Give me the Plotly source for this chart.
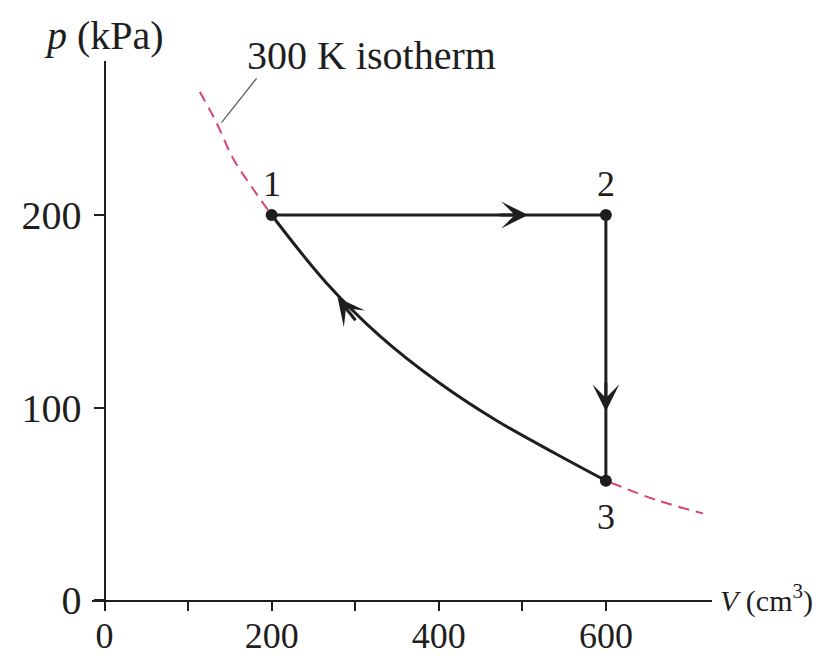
import plotly.graph_objects as go

# ---- data ----
state_labels = ["1", "2", "3"]
state_V = [200, 600, 600]
state_p = [200, 200, 62]

# process 3 -> 1 (curved path)
curve_V = [600, 540, 470, 400, 330, 265, 200]
curve_p = [62, 76, 93, 113, 137, 165, 200]

# 300 K isotherm (dashed), visible pieces
iso_hi_V = [114, 134, 153, 177, 200]
iso_hi_p = [264, 248, 230, 214, 200]
iso_lo_V = [606, 660, 716]
iso_lo_p = [61, 52, 45]

# leader line for the isotherm label
leader_V = [140, 182]
leader_p = [248, 271]

x_ticks = [0, 200, 400, 600]
x_minor_ticks = [100, 300, 500]
y_ticks = [0, 100, 200]

X_RANGE = [-15, 727]
Y_RANGE = [0, 280]

FONT = "Liberation Serif"
FS = 40
INK = "#1e1e1e"
ISO = "#d9446e"

fig = go.Figure()

fig.add_trace(go.Scatter(x=iso_hi_V, y=iso_hi_p, mode="lines", line_shape="spline",
                         line=dict(color=ISO, width=2, dash="11px,7px"), hoverinfo="skip"))
fig.add_trace(go.Scatter(x=iso_lo_V, y=iso_lo_p, mode="lines", line_shape="spline",
                         line=dict(color=ISO, width=2, dash="11px,7px"), hoverinfo="skip"))
fig.add_trace(go.Scatter(x=leader_V, y=leader_p, mode="lines",
                         line=dict(color="#555", width=1.2), hoverinfo="skip"))
# 1 -> 2 -> 3
fig.add_trace(go.Scatter(x=state_V, y=state_p, mode="lines",
                         line=dict(color=INK, width=3)))
# 3 -> 1
fig.add_trace(go.Scatter(x=curve_V, y=curve_p, mode="lines", line_shape="spline",
                         line=dict(color=INK, width=3)))
fig.add_trace(go.Scatter(x=state_V, y=state_p, mode="markers",
                         marker=dict(color=INK, size=12)))

ann = []
# state labels
for lab, v, p in zip(state_labels, state_V, state_p):
    shift = -36 if lab == "3" else 31
    ann.append(dict(x=v, y=p, text=lab, showarrow=False, yshift=shift,
                    font=dict(family=FONT, size=FS - 4, color=INK)))

# direction arrows (heads only)
arrow_common = dict(text="", showarrow=True, arrowhead=3, arrowsize=1.5,
                    arrowwidth=3, arrowcolor=INK, axref="pixel", ayref="pixel")
ann.append(dict(x=507, y=200, ax=-30, ay=0, **arrow_common))
ann.append(dict(x=600, y=98, ax=0, ay=-30, **arrow_common))
ann.append(dict(x=279, y=157, ax=19, ay=24, **arrow_common))


def paper_y(p):
    return (p - Y_RANGE[0]) / (Y_RANGE[1] - Y_RANGE[0])


def paper_x(v):
    return (v - X_RANGE[0]) / (X_RANGE[1] - X_RANGE[0])


# text labels
ann.append(dict(x=168, xref="x", y=paper_y(283), yref="paper", text="300 K isotherm",
                showarrow=False, xanchor="left", yanchor="middle",
                font=dict(family=FONT, size=FS, color=INK)))
ann.append(dict(x=paper_x(-75), xref="paper", y=paper_y(293), yref="paper",
                text="<i>p</i> (kPa)", showarrow=False,
                xanchor="left", yanchor="middle",
                font=dict(family=FONT, size=FS, color=INK)))
ann.append(dict(x=paper_x(734), xref="paper", y=1, yref="y",
                text="<i>V</i> (cm<sup>3</sup>)", showarrow=False,
                xanchor="left", yanchor="middle",
                font=dict(family=FONT, size=30, color=INK)))

# page body has an 8px margin: the figure starts at (8, 8) in the window
fig.update_layout(
    width=813, height=648,
    margin=dict(l=84, r=109, t=53, b=56),
    paper_bgcolor="white", plot_bgcolor="white",
    showlegend=False,
    annotations=ann,
    xaxis=dict(range=X_RANGE, showgrid=False, zeroline=False, automargin=False,
               showline=True, linecolor=INK, linewidth=2,
               tickmode="array", tickvals=x_ticks,
               ticks="outside", ticklen=9, tickwidth=2, tickcolor=INK,
               ticklabelstandoff=-6,
               minor=dict(tickmode="array", tickvals=x_minor_ticks, ticks="outside",
                          ticklen=9, tickwidth=2, tickcolor=INK, showgrid=False),
               tickfont=dict(family=FONT, size=FS - 4, color=INK)),
    yaxis=dict(range=Y_RANGE, showgrid=False, zeroline=False, automargin=False,
               anchor="free", position=paper_x(0),
               showline=True, linecolor=INK, linewidth=2,
               tickmode="array", tickvals=y_ticks, ticklabelstandoff=4,
               ticks="outside", ticklen=10, tickwidth=2, tickcolor=INK,
               tickfont=dict(family=FONT, size=FS, color=INK)),
)

fig.write_html("out.html")
